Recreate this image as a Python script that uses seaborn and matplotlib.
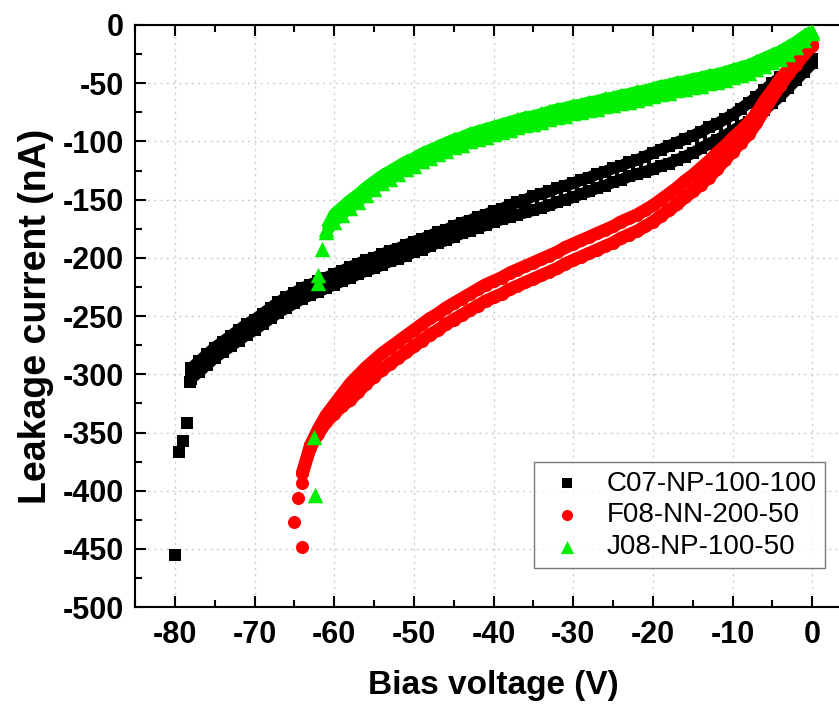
import numpy as np
import pandas as pd
import seaborn as sns
import matplotlib
matplotlib.use('Agg')
import matplotlib.pyplot as plt

# sweep voltages (V), 1 V steps
v_black = list(range(-78, 1))
v_red = list(range(-64, 1))
v_green = list(range(-61, 1))

# C07-NP-100-100, two sweep branches
black_up = [-295, -289, -283, -277, -272, -267, -262, -257, -253, -248,
            -243, -238, -234, -230, -226, -223, -220, -217, -214, -211,
            -208, -205, -202, -200, -197, -194, -192, -189, -186, -184,
            -181, -178, -176, -173, -170, -168, -165, -163, -160, -158,
            -155, -152, -150, -147, -145, -143, -140, -138, -136, -133,
            -131, -128, -126, -123, -121, -118, -116, -113, -110, -107,
            -104, -101, -98, -95, -92, -88, -85, -81, -77, -72,
            -67, -62, -56, -50, -45, -40, -36, -32, -29]
black_down = [-304, -298, -292, -286, -281, -276, -271, -266, -262, -257,
              -252, -247, -243, -239, -235, -232, -229, -226, -223, -220,
              -217, -214, -211, -209, -206, -203, -201, -198, -195, -193,
              -190, -187, -185, -182, -179, -177, -174, -172, -169, -167,
              -165, -163, -161, -159, -157, -155, -152, -150, -148, -145,
              -143, -140, -138, -135, -133, -130, -128, -126, -124, -121,
              -119, -116, -113, -110, -106, -102, -99, -95, -91, -87,
              -83, -78, -73, -67, -61, -54, -47, -40, -33]
black_tail_v = [-80, -79.5, -79, -78.5, -78.1]
black_tail_i = [-455, -367, -357, -342, -307]

# F08-NN-200-50
red_up = [-385, -361, -347, -335, -326, -317, -308, -301, -294, -288,
          -282, -277, -272, -267, -262, -257, -252, -248, -243, -239,
          -235, -231, -227, -223, -220, -217, -213, -210, -207, -204,
          -201, -198, -195, -191, -188, -185, -182, -179, -176, -173,
          -169, -166, -163, -159, -155, -150, -145, -140, -134, -129,
          -123, -117, -110, -104, -97, -91, -84, -76, -65, -56,
          -46, -38, -30, -23, -16]
red_down = [-385, -363, -351, -341, -334, -327, -322, -315, -308, -302,
            -296, -291, -286, -281, -276, -271, -266, -262, -257, -253,
            -249, -245, -241, -237, -234, -231, -227, -224, -221, -218,
            -215, -212, -209, -205, -202, -199, -196, -193, -190, -187,
            -183, -180, -177, -173, -169, -164, -159, -154, -148, -143,
            -137, -131, -124, -116, -109, -101, -94, -84, -73, -62,
            -52, -42, -34, -25, -18]
red_tail_v = [-64.1, -64.6, -65.1, -64.1]
red_tail_i = [-393, -406, -427, -448]

# J08-NP-100-50
green_up = [-175, -162, -156, -150, -145, -139, -134, -129, -125, -121,
            -117, -114, -110, -107, -104, -101, -98, -96, -93, -91,
            -89, -87, -85, -83, -81, -79, -78, -76, -74, -72,
            -71, -69, -68, -66, -65, -63, -62, -60, -59, -57,
            -56, -54, -52, -51, -49, -48, -46, -45, -43, -42,
            -40, -38, -36, -34, -31, -28, -25, -22, -18, -14,
            -9, -5]
green_down = [-178, -169, -163, -157, -152, -146, -141, -136, -132, -128,
              -124, -121, -117, -114, -111, -108, -105, -103, -100, -98,
              -96, -94, -92, -90, -88, -86, -85, -83, -81, -79,
              -78, -76, -75, -73, -72, -70, -69, -67, -66, -64,
              -63, -61, -59, -58, -56, -55, -53, -52, -50, -49,
              -47, -45, -43, -41, -38, -35, -32, -29, -25, -19,
              -13, -7]
green_tail_v = [-61.6, -62.1, -62.1, -62.6, -62.4]
green_tail_i = [-192, -215, -222, -354, -404]

labels = ['C07-NP-100-100', 'F08-NN-200-50', 'J08-NP-100-50']
colors = ['#000000', '#ff0000', '#00ee00']
markers = ['s', 'o', '^']
sizes = [72, 88, 125]
band_w = [8.4, 9.2, 8.0]

sweeps = [(v_black, black_up, black_down, black_tail_v, black_tail_i),
          (v_red, red_up, red_down, red_tail_v, red_tail_i),
          (v_green, green_up, green_down, green_tail_v, green_tail_i)]

sns.set_style('ticks')
plt.rcParams['font.family'] = ['Liberation Sans', 'DejaVu Sans']
plt.rcParams['axes.unicode_minus'] = False
for key in ['text.color', 'axes.labelcolor', 'xtick.color', 'ytick.color', 'axes.edgecolor']:
    plt.rcParams[key] = 'black'

fig = plt.figure(figsize=(8.39, 7.06), dpi=100)
ax = fig.add_axes([0.161, 0.140, 0.8546, 0.8246])

for (v, up, down, tv, ti), lab, c, m, s, w in zip(sweeps, labels, colors, markers, sizes, band_w):
    # dense measurement points form a solid band
    for branch in (up, down):
        sns.lineplot(x=v, y=branch, ax=ax, color=c, linewidth=w, sort=False,
                     solid_capstyle='butt', zorder=3)
    d = pd.DataFrame({'V': v + v + tv, 'I': up + down + ti})
    sns.scatterplot(data=d, x='V', y='I', ax=ax, color=c, marker=m, s=s,
                    linewidth=0, label=lab, zorder=3)

ax.set_xlim(-85, 5)
ax.set_ylim(-500, 0)
ax.set_xticks(range(-80, 1, 10))
ax.set_xticks(range(-85, 6, 5), minor=True)
ax.set_yticks(range(-500, 1, 50))
ax.set_yticks(range(-500, 1, 25), minor=True)
ax.grid(True, which='major', color='#cccccc', linestyle=(0, (1.5, 3)), linewidth=1)
ax.set_axisbelow(True)

ax.tick_params(which='both', direction='in', top=True, right=True, width=1.5, color='black')
ax.tick_params(which='major', length=8)
ax.tick_params(which='minor', length=5)
ax.tick_params(axis='x', which='major', pad=9, labelsize=22)
ax.tick_params(axis='y', which='major', pad=8, labelsize=22)
for lbl in ax.get_xticklabels() + ax.get_yticklabels():
    lbl.set_fontweight('bold')
for sp in ax.spines.values():
    sp.set_linewidth(1.5)
    sp.set_color('black')

ax.set_xlabel('Bias voltage (V)', fontsize=24, fontweight='bold', labelpad=15)
ax.set_ylabel('Leakage current (nA)', fontsize=27, fontweight='bold', labelpad=6)

leg = ax.legend(loc='lower right', bbox_to_anchor=(0.962, 0.067), borderaxespad=0,
                fontsize=20, frameon=True, fancybox=False, edgecolor='#555555',
                handlelength=1.8, handletextpad=0.5, borderpad=0.3,
                labelspacing=0.2, markerscale=0.85)
leg.get_frame().set_linewidth(1)

fig.savefig('out.png', dpi=100)
